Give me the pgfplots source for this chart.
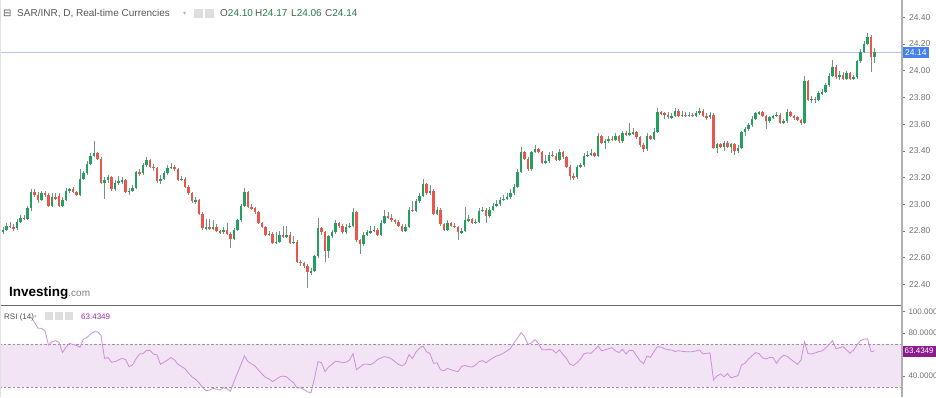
\documentclass[border=0pt]{standalone}
\usepackage{pgfplots}
\pgfplotsset{compat=1.18}
\usepackage{pgfplotstable}
\usepackage{fontspec}
\setmainfont{Liberation Sans}
\newfontfamily\dejavu{DejaVu Sans}
\definecolor{upcol}{RGB}{34,160,96}
\definecolor{dncol}{RGB}{232,86,76}
\definecolor{wickcol}{RGB}{120,145,130}
\definecolor{labgray}{RGB}{115,115,115}
\definecolor{axgray}{RGB}{175,175,175}
\definecolor{sepgray}{RGB}{105,105,105}
\definecolor{edgegray}{RGB}{225,225,225}
\definecolor{dashgray}{RGB}{150,150,150}
\definecolor{rsicol}{RGB}{204,142,220}
\definecolor{rsiband}{RGB}{242,228,245}
\definecolor{rsibox}{RGB}{138,28,142}
\definecolor{rsival}{RGB}{150,45,165}
\definecolor{pricebox}{RGB}{70,130,235}
\definecolor{hdrgray}{RGB}{85,85,85}
\definecolor{valgreen}{RGB}{40,125,70}
\definecolor{pline}{RGB}{180,198,240}
\definecolor{icongray}{RGB}{222,222,222}

\pgfplotstableread{
i o h l c
0 22.79 22.83 22.78 22.81
1 22.81 22.86 22.80 22.84
2 22.84 22.87 22.82 22.83
3 22.83 22.85 22.80 22.82
4 22.82 22.89 22.81 22.87
5 22.87 22.92 22.86 22.90
6 22.90 22.92 22.88 22.89
7 22.89 22.99 22.88 22.97
8 22.97 23.11 22.95 23.09
9 23.09 23.11 23.05 23.07
10 23.07 23.09 23.01 23.03
11 23.03 23.10 23.02 23.08
12 23.08 23.10 23.05 23.07
13 23.07 23.08 22.98 22.99
14 22.99 23.08 22.98 23.05
15 23.05 23.08 23.03 23.04
16 23.06 23.08 22.98 22.99
17 22.99 23.05 22.98 23.03
18 23.03 23.12 23.02 23.10
19 23.10 23.12 23.08 23.11
20 23.11 23.13 23.08 23.09
21 23.09 23.10 23.06 23.07
22 23.07 23.26 23.06 23.19
23 23.19 23.25 23.18 23.23
24 23.23 23.32 23.22 23.30
25 23.30 23.38 23.29 23.36
26 23.36 23.47 23.35 23.38
27 23.38 23.39 23.33 23.34
28 23.34 23.35 23.15 23.16
29 23.16 23.20 23.04 23.18
30 23.18 23.22 23.16 23.20
31 23.20 23.21 23.10 23.11
32 23.11 23.18 23.10 23.16
33 23.16 23.21 23.14 23.17
34 23.17 23.20 23.15 23.18
35 23.18 23.19 23.08 23.09
36 23.09 23.12 23.07 23.10
37 23.10 23.14 23.09 23.12
38 23.12 23.25 23.11 23.24
39 23.24 23.26 23.21 23.23
40 23.23 23.31 23.22 23.29
41 23.29 23.35 23.28 23.33
42 23.33 23.34 23.27 23.28
43 23.28 23.30 23.25 23.27
44 23.27 23.28 23.16 23.17
45 23.17 23.22 23.15 23.19
46 23.19 23.25 23.18 23.23
47 23.23 23.29 23.22 23.27
48 23.27 23.31 23.26 23.28
49 23.28 23.29 23.25 23.26
50 23.26 23.27 23.17 23.18
51 23.18 23.21 23.17 23.19
52 23.19 23.20 23.12 23.13
53 23.13 23.14 23.07 23.08
54 23.08 23.09 23.01 23.02
55 23.02 23.05 23.00 23.03
56 23.03 23.04 22.92 22.93
57 22.93 22.94 22.81 22.82
58 22.82 22.89 22.81 22.83
59 22.83 22.89 22.81 22.82
60 22.82 22.88 22.81 22.83
61 22.83 22.85 22.79 22.80
62 22.80 22.81 22.78 22.79
63 22.79 22.83 22.78 22.81
64 22.81 22.86 22.77 22.78
65 22.78 22.79 22.67 22.74
66 22.74 22.82 22.73 22.81
67 22.81 22.89 22.80 22.88
68 22.88 23.00 22.87 22.99
69 22.99 23.12 22.98 23.09
70 23.09 23.10 22.97 22.98
71 22.98 23.00 22.96 22.97
72 22.97 22.98 22.93 22.94
73 22.94 22.95 22.85 22.86
74 22.86 22.87 22.82 22.83
75 22.83 22.84 22.76 22.77
76 22.77 22.80 22.76 22.78
77 22.78 22.79 22.70 22.71
78 22.71 22.79 22.70 22.72
79 22.72 22.80 22.71 22.77
80 22.77 22.84 22.75 22.76
81 22.76 22.84 22.75 22.77
82 22.77 22.79 22.70 22.71
83 22.71 22.76 22.70 22.72
84 22.72 22.73 22.56 22.57
85 22.57 22.58 22.54 22.56
86 22.56 22.57 22.52 22.54
87 22.54 22.55 22.37 22.49
88 22.49 22.52 22.47 22.50
89 22.50 22.62 22.49 22.61
90 22.61 22.90 22.60 22.82
91 22.82 22.83 22.77 22.79
92 22.79 22.80 22.57 22.65
93 22.65 22.77 22.60 22.76
94 22.76 22.81 22.75 22.79
95 22.79 22.88 22.78 22.86
96 22.86 22.87 22.82 22.84
97 22.84 22.85 22.78 22.79
98 22.79 22.85 22.78 22.83
99 22.83 22.86 22.82 22.84
100 22.84 22.97 22.83 22.94
101 22.94 22.95 22.72 22.73
102 22.73 22.74 22.63 22.70
103 22.70 22.79 22.69 22.77
104 22.77 22.81 22.76 22.79
105 22.79 22.84 22.78 22.80
106 22.80 22.84 22.79 22.81
107 22.81 22.82 22.76 22.77
108 22.77 22.88 22.76 22.86
109 22.86 22.96 22.85 22.91
110 22.91 22.94 22.89 22.90
111 22.90 22.93 22.87 22.88
112 22.88 22.89 22.85 22.87
113 22.87 22.88 22.83 22.84
114 22.84 22.85 22.79 22.80
115 22.80 22.85 22.79 22.83
116 22.83 22.98 22.82 22.96
117 22.96 23.02 22.94 22.95
118 22.95 23.04 22.94 23.02
119 23.02 23.08 23.01 23.06
120 23.06 23.19 23.05 23.15
121 23.15 23.16 23.07 23.08
122 23.08 23.14 23.07 23.10
123 23.10 23.11 22.92 22.93
124 22.93 22.98 22.92 22.96
125 22.96 22.97 22.84 22.85
126 22.85 22.86 22.80 22.81
127 22.81 22.88 22.80 22.86
128 22.86 22.87 22.83 22.84
129 22.84 22.86 22.82 22.83
130 22.83 22.84 22.73 22.79
131 22.79 22.82 22.78 22.80
132 22.80 22.98 22.79 22.88
133 22.88 22.92 22.87 22.89
134 22.89 22.90 22.85 22.86
135 22.86 22.89 22.85 22.87
136 22.87 22.97 22.86 22.95
137 22.95 22.98 22.94 22.96
138 22.96 22.97 22.86 22.91
139 22.91 22.98 22.90 22.96
140 22.96 23.01 22.95 22.99
141 22.99 23.03 22.98 23.00
142 23.00 23.05 22.99 23.03
143 23.03 23.07 23.02 23.04
144 23.04 23.08 23.03 23.05
145 23.05 23.11 23.04 23.08
146 23.08 23.15 23.07 23.13
147 23.13 23.26 23.12 23.24
148 23.24 23.43 23.23 23.39
149 23.39 23.40 23.33 23.34
150 23.34 23.35 23.25 23.26
151 23.26 23.40 23.25 23.39
152 23.39 23.44 23.38 23.41
153 23.41 23.42 23.38 23.39
154 23.39 23.40 23.30 23.31
155 23.31 23.37 23.30 23.32
156 23.32 23.39 23.31 23.37
157 23.37 23.40 23.35 23.36
158 23.36 23.38 23.32 23.33
159 23.33 23.41 23.32 23.39
160 23.39 23.40 23.34 23.35
161 23.35 23.36 23.27 23.28
162 23.28 23.29 23.18 23.21
163 23.21 23.23 23.18 23.20
164 23.20 23.29 23.19 23.28
165 23.28 23.31 23.27 23.29
166 23.29 23.38 23.28 23.36
167 23.36 23.40 23.35 23.37
168 23.37 23.41 23.36 23.38
169 23.38 23.39 23.35 23.36
170 23.36 23.53 23.35 23.51
171 23.51 23.52 23.45 23.46
172 23.46 23.49 23.41 23.47
173 23.47 23.51 23.46 23.49
174 23.49 23.51 23.47 23.48
175 23.48 23.53 23.47 23.51
176 23.51 23.52 23.46 23.47
177 23.47 23.55 23.46 23.53
178 23.53 23.55 23.51 23.52
179 23.52 23.61 23.51 23.53
180 23.53 23.57 23.52 23.54
181 23.54 23.55 23.49 23.50
182 23.50 23.51 23.43 23.44
183 23.44 23.46 23.39 23.41
184 23.41 23.53 23.40 23.51
185 23.51 23.52 23.48 23.49
186 23.49 23.57 23.48 23.54
187 23.54 23.72 23.53 23.69
188 23.69 23.70 23.67 23.68
189 23.68 23.69 23.64 23.67
190 23.67 23.69 23.64 23.65
191 23.65 23.68 23.64 23.66
192 23.66 23.72 23.65 23.70
193 23.70 23.71 23.65 23.66
194 23.66 23.70 23.65 23.67
195 23.67 23.69 23.65 23.66
196 23.66 23.69 23.65 23.67
197 23.67 23.68 23.65 23.66
198 23.66 23.70 23.65 23.68
199 23.68 23.72 23.67 23.70
200 23.70 23.71 23.65 23.66
201 23.66 23.68 23.63 23.65
202 23.65 23.69 23.64 23.67
203 23.67 23.68 23.41 23.42
204 23.42 23.46 23.38 23.45
205 23.45 23.46 23.42 23.43
206 23.43 23.47 23.40 23.46
207 23.46 23.47 23.42 23.43
208 23.43 23.46 23.38 23.45
209 23.45 23.46 23.37 23.40
210 23.40 23.44 23.38 23.42
211 23.42 23.55 23.41 23.54
212 23.54 23.58 23.51 23.56
213 23.56 23.61 23.55 23.59
214 23.59 23.66 23.58 23.64
215 23.64 23.69 23.63 23.68
216 23.68 23.70 23.67 23.69
217 23.69 23.70 23.65 23.66
218 23.66 23.67 23.56 23.62
219 23.62 23.66 23.61 23.65
220 23.65 23.67 23.64 23.66
221 23.66 23.69 23.65 23.67
222 23.67 23.68 23.60 23.61
223 23.61 23.64 23.60 23.62
224 23.62 23.71 23.61 23.69
225 23.69 23.70 23.65 23.66
226 23.66 23.67 23.63 23.65
227 23.65 23.66 23.62 23.63
228 23.63 23.64 23.59 23.61
229 23.61 23.96 23.60 23.92
230 23.92 23.93 23.77 23.78
231 23.78 23.81 23.76 23.79
232 23.79 23.80 23.76 23.78
233 23.78 23.85 23.77 23.83
234 23.83 23.86 23.82 23.84
235 23.84 23.91 23.83 23.89
236 23.89 23.98 23.88 23.96
237 23.96 24.08 23.95 24.03
238 24.03 24.04 23.94 23.95
239 23.95 24.00 23.93 23.97
240 23.97 23.99 23.93 23.94
241 23.94 24.00 23.93 23.98
242 23.98 23.99 23.93 23.94
243 23.94 23.97 23.93 23.95
244 23.95 24.08 23.94 24.07
245 24.07 24.16 24.06 24.14
246 24.14 24.22 24.13 24.20
247 24.20 24.28 24.19 24.25
248 24.25 24.27 23.99 24.10
249 24.10 24.17 24.06 24.14
}\candles

\pgfplotstableread{
i rsi
8 95
9 90
10 84.5
11 84.5
12 82
13 69
14 72
15 73
16 71.5
17 62
18 67
19 70.5
20 69.5
21 68.5
22 67
23 74.5
24 76
25 79
26 81.2
27 81.4
28 78
29 56.6
30 57.4
31 53
32 53.5
33 55
34 56.6
35 55.5
36 49
37 50.4
38 56
39 60.7
40 61
41 64
42 64
43 60.5
44 59.8
45 51
46 53
47 55
48 57.4
49 55
50 51
51 49
52 47
53 43
54 39.4
55 37.2
56 34
57 29.5
58 26.6
59 27
60 28.7
61 28
62 27.1
63 29.4
64 28.3
65 26
66 35
67 43
68 51
69 58.8
70 53.5
71 51.5
72 49.5
73 45.7
74 42
75 38.9
76 37.5
77 35
78 37
79 39.3
80 40.1
81 39.5
82 36.5
83 34
84 29
85 29.3
86 27.6
87 25.4
88 24.7
89 38
90 53.5
91 52.5
92 44.2
93 48.5
94 51
95 54
96 53.5
97 52.5
98 53
99 55
100 61
101 46
102 48.5
103 51
104 51.3
105 50.7
106 52.5
107 55.5
108 57
109 58.2
110 57.5
111 56
112 53.5
113 51
114 49.5
115 52
116 60
117 56.5
118 62.5
119 66
120 68
121 62.8
122 61
123 52
124 52.5
125 46
126 45
127 47.2
128 46
129 45
130 44.2
131 49
132 50
133 49
134 48.5
135 50.4
136 53.5
137 54.5
138 52.5
139 55
140 57
141 58.8
142 59.8
143 61.5
144 63.5
145 66
146 71
147 75.5
148 80.5
149 77
150 69.5
151 71
152 74
153 70.5
154 64.5
155 64.5
156 65
157 64.5
158 61.5
159 64.5
160 60
161 56.6
162 51
163 50
164 52.5
165 56
166 60.8
167 61.7
168 61.2
169 64.5
170 68
171 63.7
172 64.5
173 65.5
174 66.5
175 63.5
176 62
177 65
178 60.7
179 64
180 63.8
181 59
182 54.5
183 51.5
184 58.8
185 57.5
186 63
187 67.5
188 67
189 65.5
190 64.5
191 64.4
192 63
193 63.7
194 63.2
195 62.8
196 62.8
197 62.8
198 63.5
199 64.5
200 60.7
201 61.3
202 61.5
203 36.5
204 40.1
205 42
206 39.5
207 42.5
208 38.5
209 39.5
210 40.5
211 50.4
212 52
213 56
214 59
215 61.9
216 61
217 57
218 56
219 57.4
220 57.4
221 52
222 56.6
223 59.5
224 58.5
225 56
226 53.5
227 51
228 55
229 72
230 61
231 60.7
232 61.5
233 62.8
234 63.5
235 66
236 69.5
237 73
238 65.5
239 66.5
240 67.5
241 64.5
242 61.3
243 64.4
244 69
245 73
246 74.3
247 74.8
248 62.8
249 63.43
}\rsidata

\pgfplotsset{
  candlebase/.style={only marks, mark=*, mark size=0pt, mark options={draw=none, fill=none},
    error bars/.cd, y dir=both, y explicit, error mark=none}
}

\begin{document}
\begin{tikzpicture}[x=1pt,y=1pt]
\useasboundingbox (0,0) rectangle (936,397);
% price panel
\begin{axis}[
  at={(0pt,92pt)}, anchor=south west, scale only axis,
  width=902pt, height=305pt,
  xmin=-0.857, xmax=256.857, ymin=22.245, ymax=24.53,
  axis x line=none, axis y line*=right,
  y axis line style={draw=none},
  ytick={22.4,22.6,22.8,23.0,23.2,23.4,23.6,23.8,24.0,24.2,24.4},
  yticklabels={22.40,22.60,22.80,23.00,23.20,23.40,23.60,23.80,24.00,24.20,24.40},
  tick align=outside, major tick length=3pt,
  ytick style={draw=labgray, line width=0.5pt},
  yticklabel style={font=\fontsize{8.5}{10}\selectfont, text=labgray, xshift=0.5pt},
  clip=true]
\addplot[pline, line width=0.6pt] coordinates {(-1,24.14) (258,24.14)};
\addplot[candlebase, error bar style={draw=wickcol, line width=0.8pt}]
  table[x=i, y expr={0.5*(\thisrow{h}+\thisrow{l})}, y error expr={0.5*(\thisrow{h}-\thisrow{l})}] {\candles};
\addplot[candlebase, error bar style={draw=upcol, line width=2.8pt}]
  table[x=i, y expr={ifthenelse(\thisrow{c}>=\thisrow{o},0.5*(\thisrow{o}+\thisrow{c}),-10)},
        y error expr={max(0.5*abs(\thisrow{c}-\thisrow{o}),0.004)}] {\candles};
\addplot[candlebase, error bar style={draw=dncol, line width=2.8pt}]
  table[x=i, y expr={ifthenelse(\thisrow{c}<\thisrow{o},0.5*(\thisrow{o}+\thisrow{c}),-10)},
        y error expr={max(0.5*abs(\thisrow{c}-\thisrow{o}),0.004)}] {\candles};
\end{axis}
% RSI panel
\begin{axis}[
  at={(0pt,0pt)}, anchor=south west, scale only axis,
  width=902pt, height=92pt,
  xmin=-0.857, xmax=256.857, ymin=20.65, ymax=106.2,
  axis x line=none, axis y line*=right,
  y axis line style={draw=none},
  ytick={40,80,100},
  yticklabels={40.0000,80.0000,100.0000},
  tick align=outside, major tick length=3pt,
  ytick style={draw=labgray, line width=0.5pt},
  yticklabel style={font=\fontsize{8}{10}\selectfont, text=labgray, xshift=0pt},
  clip=true]
\addplot[draw=none, fill=rsiband] coordinates {(-1,30) (258,30) (258,70) (-1,70) (-1,30)};
\addplot[draw=dashgray, line width=0.6pt, dash pattern=on 2.5pt off 2pt] coordinates {(-1,70) (258,70)};
\addplot[draw=dashgray, line width=0.6pt, dash pattern=on 2.5pt off 2pt] coordinates {(-1,30) (258,30)};
\addplot[rsicol, line width=0.8pt, mark=none] table[x=i, y=rsi] {\rsidata};
\end{axis}
% frame lines
\draw[sepgray, line width=1pt] (0,92) -- (902,92);
\draw[axgray, line width=1.3pt] (902,0) -- (902,397);
\draw[edgegray, line width=1pt] (0.5,0) -- (0.5,397);
% price label boxes
\node[fill=pricebox, text=white, font=\fontsize{8.5}{10}\selectfont, inner xsep=2.5pt, inner ysep=0pt, minimum height=11pt, anchor=west] at (902.5,344.9) {24.14};
\node[fill=rsibox, text=white, font=\fontsize{8}{10}\selectfont, inner xsep=2pt, inner ysep=0pt, minimum height=11pt, anchor=west] at (902.5,46) {63.4349};
% header
\node[anchor=base west, inner sep=0, text=hdrgray, font=\dejavu\fontsize{10}{12}\selectfont] at (3,380) {⊟};
\node[anchor=base west, inner sep=0, text=hdrgray, font=\fontsize{10}{12}\selectfont] at (17,380) {SAR/INR, D, Real-time Currencies};
\node[anchor=base west, inner sep=0, text=gray!60, font=\dejavu\fontsize{6}{7}\selectfont] at (183,381) {▾};
\fill[icongray] (194,379) rectangle (203,388);
\fill[icongray] (205,379) rectangle (214,388);
\node[anchor=base west, inner sep=0, text=hdrgray, font=\fontsize{10}{12}\selectfont] at (220,380) {O\textcolor{valgreen}{24.10}};
\node[anchor=base west, inner sep=0, text=hdrgray, font=\fontsize{10}{12}\selectfont] at (255,380) {H\textcolor{valgreen}{24.17}};
\node[anchor=base west, inner sep=0, text=hdrgray, font=\fontsize{10}{12}\selectfont] at (291,380) {L\textcolor{valgreen}{24.06}};
\node[anchor=base west, inner sep=0, text=hdrgray, font=\fontsize{10}{12}\selectfont] at (325,380) {C\textcolor{valgreen}{24.14}};
% logo
\node[anchor=base west, inner sep=0, font=\fontsize{13.5}{15}\selectfont\bfseries] at (9,101) {Investing{\mdseries\fontsize{10}{11}\selectfont\textcolor{gray}{.com}}};
% RSI header
\node[anchor=base west, inner sep=0, text=hdrgray, font=\fontsize{8}{9}\selectfont] at (4,78) {RSI (14)};
\node[anchor=base west, inner sep=0, text=gray!60, font=\dejavu\fontsize{5}{6}\selectfont] at (34,79) {▾};
\fill[icongray] (45,77) rectangle (53,85);
\fill[icongray] (55,77) rectangle (63,85);
\fill[icongray] (65,77) rectangle (73,85);
\node[anchor=base west, inner sep=0, text=rsival, font=\fontsize{8}{9}\selectfont] at (81,78) {63.4349};
\end{tikzpicture}
\end{document}
